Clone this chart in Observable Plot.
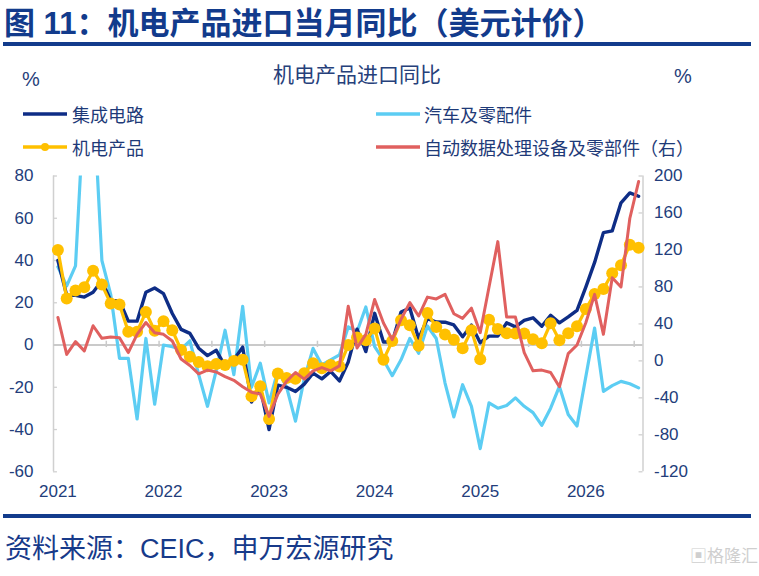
<!DOCTYPE html>
<html><head><meta charset="utf-8">
<script src="https://cdn.jsdelivr.net/npm/d3@7"></script>
<script src="https://cdn.jsdelivr.net/npm/@observablehq/plot@0.6"></script>
<style>
body{margin:0;background:#fff;font-family:"Liberation Sans","Noto Sans CJK SC",sans-serif;}
#page{position:relative;width:759px;height:576px;overflow:hidden;background:#fff;}
.abs{position:absolute;white-space:nowrap;}
#title{left:4px;top:4px;font-family:"Liberation Sans","Noto Sans CJK SC",sans-serif;font-weight:700;font-size:31px;line-height:40px;color:#123b8c;}
.rule{left:3px;width:748px;height:3.5px;background:#123b8c;}
#sub{left:0;width:714px;text-align:center;top:61px;font-size:21px;line-height:25px;color:#26407a;font-family:"Noto Sans CJK SC",sans-serif;}
.pct{font-size:20px;line-height:24px;color:#26407a;}
.leg{font-size:18px;line-height:24px;color:#1e3a78;font-family:"Noto Sans CJK SC",sans-serif;}
#foot{left:5px;top:532px;font-size:27px;line-height:34px;color:#173a8a;font-family:"Liberation Sans","Noto Sans CJK SC",sans-serif;}
#wm{left:690px;top:543px;font-size:17px;line-height:24px;color:#cfcfcf;font-family:"Noto Sans CJK SC",sans-serif;}
#chart{left:0;top:160px;}
</style></head>
<body><div id="page">
<div id="title" class="abs">图 11：机电产品进口当月同比（美元计价）</div>
<div class="abs rule" style="top:42px"></div>
<div id="sub" class="abs">机电产品进口同比</div>
<div class="abs pct" style="left:22px;top:67px">%</div>
<div class="abs pct" style="left:674px;top:64px">%</div>
<div id="legend"></div>
<div id="chart" class="abs"></div>
<div class="abs rule" style="top:514px"></div>
<div id="foot" class="abs">资料来源：CEIC，申万宏源研究</div>
<div id="wm" class="abs">▣格隆汇</div>
</div>
<script>
// ---- data (monthly, starting Jan 2021) ----
const startYear = 2021;
const seriesNames = ["集成电路", "汽车及零配件", "机电产品", "自动数据处理设备及零部件（右）"];
const seriesColors = ["#0e2d86", "#5ccdf3", "#ffc000", "#e0605f"];

const icVals = [40,23.5,23.5,22.7,25,30.5,21,21,11.3,11.3,25,27,24.3,14.9,7.4,5.5,-1.5,-5,-2.5,-10,
  -7,-1,-27,-20,-40,-19,-20,-22,-18.5,-13.3,-16,-12.5,-17,-8,7.5,-3.1,15,1.4,1.4,15.6,
  17.5,3,12.5,10.9,10.8,9.5,3.9,9.4,1.1,4.2,4.2,10.5,8.6,11.7,12.9,8.9,14.1,10.5,13.3,16.4,
  27.4,39.1,53.2,54,67.3,72,70.4];
const autoVals = [37,28,37.5,115,120,40,24,-6.3,-6.3,-35,3.1,-28,0,-0.8,-2,2,-14,-29,-12,7,
  -14,18.3,-20,-8.6,-27.4,-12,-20,-36,-16,-1.6,-9.4,-7,-4.7,8.6,6.3,18,-0.8,-7,-14.5,-7,
  3.1,-3.9,9,3.1,-18,-34,-18.8,-29,-49,-27.4,-29.9,-28.6,-25,-29,-32,-38,-29.9,-19.6,-32.9,-38.3,
  -15,8,-21.9,-19.2,-17.2,-18.3,-20.3];
const meVals = [45,22,25.8,27.4,35.2,28.6,19.6,19.2,6.3,6.3,15.6,6.7,11.3,7,-2.3,-5.5,-8,-10,-9,-9.5,
  -7.5,-7,-24.3,-19.5,-35,-13.5,-15.6,-16,-13.3,-8.6,-11,-9.4,-10.2,0,3.6,2.3,7.8,-7,1.9,11.7,
  9.4,-0.3,15.2,8.5,5,2.5,-1.5,7,-6.7,12,7.6,5.6,5.5,5.5,2.7,0.8,10.3,2.3,5.6,8.9,
  17,24.2,26.5,34,37.8,47.5,46];
const adpVals = [47,7,20.8,10.8,38,24.4,25.8,25.1,9,28.7,41.5,30.5,28.7,21.5,2,-5,-14,-10,-12,-17,
  -21,-28,-34,-36,-60,-36,-22,-12.6,-19.7,-10.8,-7.2,-10.8,-5.4,59,14,28.7,66.5,41,23,45,
  63,48.5,69,67,72,51,46,57,30.5,80,129,47.4,47.4,9,-10.8,-10,-12.6,-28,7.9,17.2,
  41.2,72,28.7,90,80,154,194];

const leftTicks = [-60,-40,-20,0,20,40,60,80];
const rightTicks = [-120,-80,-40,0,40,80,120,160,200];
const yearLabels = ["2021","2022","2023","2024","2025","2026"];

// ---- helpers ----
const leftDomain = [-60, 80], rightDomain = [-120, 200];
const k = (rightDomain[1]-rightDomain[0])/(leftDomain[1]-leftDomain[0]);
const toLeft = r => leftDomain[0] + (r - rightDomain[0]) / k;
const fromLeft = l => rightDomain[0] + (l - leftDomain[0]) * k;
const n = meVals.length;
const yearIdx = yearLabels.map(y => (+y - startYear) * 12);
const halfYearTicks = d3.range(5.5, n, 6);
const xi = (d, i) => i;

const axisColor = "#233d7b";
const chart = Plot.plot({
  width: 759, height: 345,
  marginLeft: 53, marginRight: 116.5, marginTop: 15.5, marginBottom: 33.7,
  x: {domain: [-0.5, n - 0.5], axis: null},
  y: {domain: leftDomain, axis: null},
  style: {fontFamily: '"Liberation Sans", Arial, sans-serif', fontSize: "17px", color: axisColor, background: "transparent", overflow: "visible"},
  marks: [
    Plot.ruleX([-0.5, n - 0.5], {stroke: "#d0d0d0", strokeWidth: 1.5}),
    Plot.ruleY(leftTicks, {x1: -0.5, x2: -0.05, stroke: "#d0d0d0", strokeWidth: 1.3}),
    Plot.ruleY(rightTicks.map(toLeft), {x1: n - 0.95, x2: n - 0.5, stroke: "#d0d0d0", strokeWidth: 1.3}),
    Plot.ruleY([0], {stroke: "#cacaca", strokeWidth: 2}),
    Plot.ruleX(halfYearTicks, {y1: -1.2, y2: 1.8, stroke: "#cacaca", strokeWidth: 1.5}),
    Plot.axisY(leftTicks, {anchor: "left", tickSize: 0, tickPadding: 20, tickFormat: d => String(d), label: null, fill: axisColor, fontSize: 17}),
    Plot.axisY(rightTicks.map(toLeft), {anchor: "right", tickSize: 0, tickPadding: 11, tickFormat: d => String(Math.round(fromLeft(d))), label: null, fill: axisColor, fontSize: 17}),
    Plot.axisX(yearIdx, {anchor: "bottom", tickSize: 0, tickPadding: 13, tickFormat: (d) => yearLabels[yearIdx.indexOf(d)], label: null, fill: axisColor, fontSize: 17}),
    Plot.line(autoVals, {x: xi, y: d => d, stroke: seriesColors[1], strokeWidth: 3.2, strokeLinejoin: "round", clip: true}),
    Plot.line(icVals, {x: xi, y: d => d, stroke: seriesColors[0], strokeWidth: 3.4, strokeLinejoin: "round", clip: true}),
    Plot.line(meVals, {x: xi, y: d => d, stroke: seriesColors[2], strokeWidth: 3.2, strokeLinejoin: "round", clip: true}),
    Plot.dot(meVals, {x: xi, y: d => d, r: 6, fill: seriesColors[2], stroke: "none"}),
    Plot.line(adpVals, {x: xi, y: d => toLeft(d), stroke: seriesColors[3], strokeWidth: 3, strokeLinejoin: "round", clip: true})
  ]
});
document.getElementById("chart").appendChild(chart);

// ---- legend ----
const legendPos = [
  {lx: 22, tx: 72, cy: 114}, {lx: 375, tx: 424, cy: 114},
  {lx: 22, tx: 72, cy: 147}, {lx: 375, tx: 424, cy: 147}
];
const legend = document.getElementById("legend");
seriesNames.forEach((name, i) => {
  const p = legendPos[i];
  const sw = document.createElementNS("http://www.w3.org/2000/svg", "svg");
  sw.setAttribute("width", 46); sw.setAttribute("height", 14);
  sw.setAttribute("class", "abs");
  sw.style.left = p.lx + "px"; sw.style.top = (p.cy - 7) + "px";
  sw.innerHTML = `<line x1="1" x2="45" y1="7" y2="7" stroke="${seriesColors[i]}" stroke-width="3.5"/>` +
    (i === 2 ? `<circle cx="23" cy="7" r="4" fill="${seriesColors[i]}"/>` : "");
  legend.appendChild(sw);
  const t = document.createElement("div");
  t.className = "abs leg";
  t.style.left = p.tx + "px"; t.style.top = (p.cy - 12) + "px";
  t.textContent = name;
  legend.appendChild(t);
});
</script>
</body></html>
